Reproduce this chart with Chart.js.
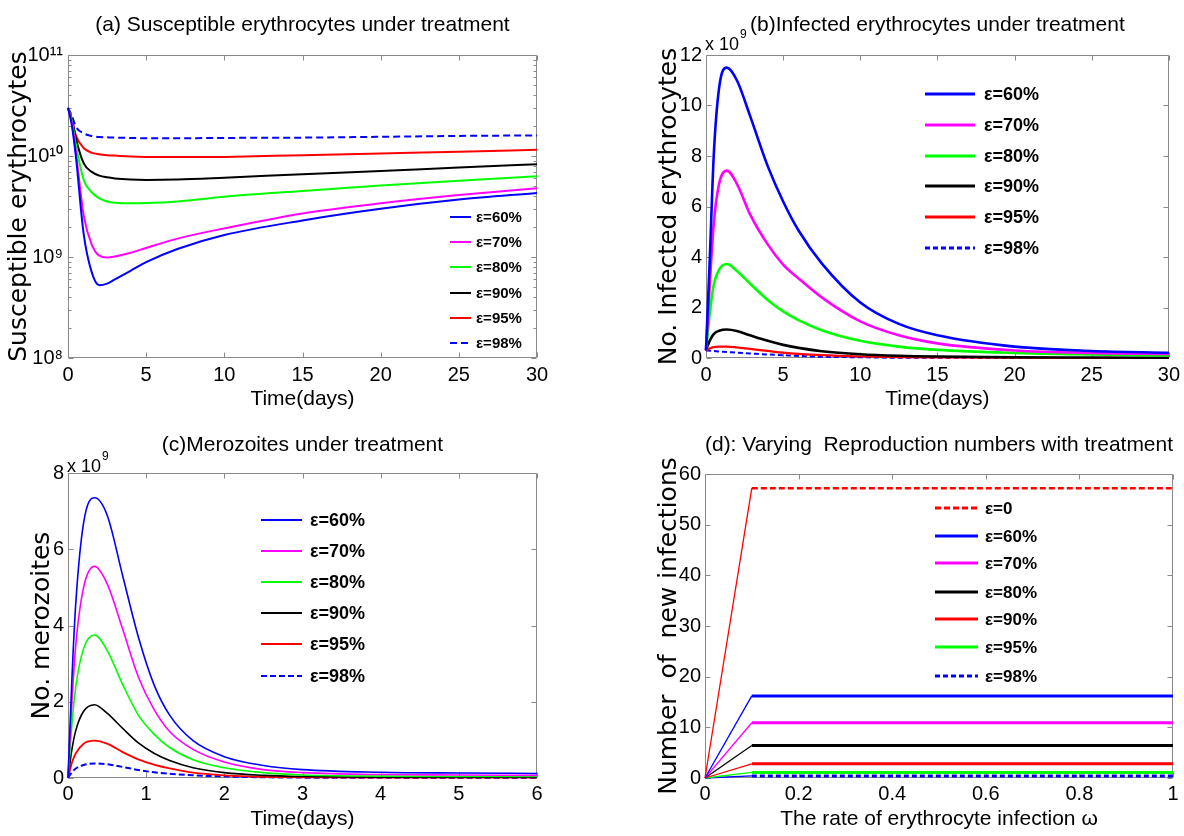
<!DOCTYPE html>
<html><head><meta charset="utf-8">
<script src="https://cdn.jsdelivr.net/npm/chart.js@4.4.1/dist/chart.umd.min.js"></script>
<style>
html,body{margin:0;padding:0;background:#fff;width:1184px;height:836px;overflow:hidden}
canvas{position:absolute}
</style></head><body>
<canvas id="ca" width="592" height="418" style="left:0;top:0;width:592px;height:418px"></canvas>
<canvas id="cb" width="592" height="418" style="left:592px;top:0;width:592px;height:418px"></canvas>
<canvas id="cc" width="592" height="418" style="left:0;top:418px;width:592px;height:418px"></canvas>
<canvas id="cd" width="592" height="418" style="left:592px;top:418px;width:592px;height:418px"></canvas>
<script>
// ---------------- DATA ----------------
const seriesLabels = ['ε=60%', 'ε=70%', 'ε=80%', 'ε=90%', 'ε=95%', 'ε=98%'];
const seriesLabelsD = ['ε=0', 'ε=60%', 'ε=70%', 'ε=80%', 'ε=90%', 'ε=95%', 'ε=98%'];

// (a) susceptible erythrocytes (log scale)
const timeA = [0, 0.25, 0.5, 1, 1.5, 2, 2.5, 3, 4, 5, 7, 10, 15, 20, 25, 30];
const suscA60 = [3.0e10, 2.0e10, 1.0e10, 1.7e9, 7.2e8, 5.25e8, 5.45e8, 6.0e8, 7.3e8, 8.9e8, 1.2e9, 1.65e9, 2.3e9, 3.0e9, 3.7e9, 4.3e9];
const suscA70 = [3.0e10, 2.1e10, 1.1e10, 2.6e9, 1.35e9, 1.03e9, 9.9e8, 1.01e9, 1.1e9, 1.23e9, 1.52e9, 1.92e9, 2.7e9, 3.4e9, 4.1e9, 4.8e9];
const suscA80 = [3.0e10, 2.2e10, 1.3e10, 5.8e9, 4.4e9, 3.8e9, 3.55e9, 3.45e9, 3.4e9, 3.42e9, 3.55e9, 3.95e9, 4.5e9, 5.1e9, 5.7e9, 6.3e9];
const suscA90 = [3.0e10, 2.3e10, 1.5e10, 8.5e9, 7.0e9, 6.4e9, 6.15e9, 6.0e9, 5.85e9, 5.8e9, 5.85e9, 6.1e9, 6.6e9, 7.1e9, 7.7e9, 8.3e9];
const suscA95 = [3.0e10, 2.3e10, 1.6e10, 1.2e10, 1.08e10, 1.04e10, 1.02e10, 1.01e10, 9.9e9, 9.8e9, 9.75e9, 9.8e9, 1.02e10, 1.06e10, 1.1e10, 1.15e10];
const suscA98 = [3.0e10, 2.5e10, 1.95e10, 1.68e10, 1.58e10, 1.54e10, 1.53e10, 1.52e10, 1.51e10, 1.5e10, 1.5e10, 1.51e10, 1.52e10, 1.55e10, 1.58e10, 1.6e10];
const xTicksA = [0, 5, 10, 15, 20, 25, 30];
const yTicksA = [1e8, 1e9, 1e10, 1e11];
const yTickLabelsA = ['10⁸', '10⁹', '10¹⁰', '10¹¹'];

// (b) infected erythrocytes (x 10^9)
const timeB = [0, 0.25, 0.5, 0.85, 1.35, 2, 2.85, 4, 5, 6, 7.5, 10, 12.5, 15, 20, 25, 30];
const infB60 = [0.3, 4.0, 8.0, 10.7, 11.5, 11.0, 9.6, 7.6, 6.2, 5.05, 3.75, 2.2, 1.35, 0.9, 0.45, 0.28, 0.21];
const infB70 = [0.3, 3.0, 5.3, 6.9, 7.42, 6.9, 5.7, 4.5, 3.7, 3.15, 2.4, 1.45, 0.9, 0.58, 0.3, 0.2, 0.16];
const infB80 = [0.3, 1.8, 2.9, 3.5, 3.72, 3.45, 2.95, 2.3, 1.85, 1.5, 1.1, 0.68, 0.45, 0.32, 0.2, 0.14, 0.1];
const infB90 = [0.3, 0.7, 0.95, 1.08, 1.13, 1.07, 0.9, 0.68, 0.52, 0.4, 0.27, 0.15, 0.09, 0.06, 0.03, 0.02, 0.01];
const infB95 = [0.3, 0.38, 0.43, 0.45, 0.45, 0.42, 0.36, 0.28, 0.21, 0.16, 0.11, 0.06, 0.03, 0.02, 0.01, 0, 0];
const infB98 = [0.3, 0.29, 0.28, 0.26, 0.24, 0.21, 0.18, 0.14, 0.11, 0.08, 0.05, 0.03, 0.01, 0.01, 0, 0, 0];
const xTicksB = [0, 5, 10, 15, 20, 25, 30];
const yTicksB = [0, 2, 4, 6, 8, 10, 12];

// (c) merozoites (x 10^9)
const timeC = [0, 0.05, 0.1, 0.2, 0.34, 0.5, 0.7, 0.9, 1.1, 1.3, 1.6, 2, 2.5, 3, 4, 5, 6];
const meroC60 = [0, 2.6, 4.6, 6.7, 7.35, 6.9, 5.3, 3.7, 2.45, 1.65, 0.98, 0.56, 0.33, 0.22, 0.15, 0.13, 0.12];
const meroC70 = [0, 2.0, 3.5, 5.0, 5.55, 5.1, 3.9, 2.65, 1.8, 1.22, 0.75, 0.42, 0.22, 0.14, 0.09, 0.08, 0.07];
const meroC80 = [0, 1.4, 2.4, 3.4, 3.75, 3.35, 2.45, 1.65, 1.15, 0.8, 0.48, 0.27, 0.14, 0.08, 0.05, 0.04, 0.04];
const meroC90 = [0, 0.75, 1.25, 1.75, 1.92, 1.7, 1.3, 0.92, 0.65, 0.46, 0.27, 0.14, 0.07, 0.04, 0.02, 0.02, 0.02];
const meroC95 = [0, 0.4, 0.65, 0.9, 0.98, 0.9, 0.68, 0.49, 0.35, 0.25, 0.14, 0.07, 0.03, 0.02, 0.01, 0.01, 0.01];
const meroC98 = [0, 0.15, 0.25, 0.34, 0.38, 0.36, 0.29, 0.21, 0.15, 0.11, 0.07, 0.04, 0.02, 0.01, 0.005, 0, 0];
const xTicksC = [0, 1, 2, 3, 4, 5, 6];
const yTicksC = [0, 2, 4, 6, 8];

// (d) reproduction numbers vs omega
const omegaD = [0, 0.1, 1];
const reproD0 = [0, 57.2, 57.2];
const reproD60 = [0, 16.2, 16.2];
const reproD70 = [0, 10.9, 10.9];
const reproD80 = [0, 6.4, 6.4];
const reproD90 = [0, 2.8, 2.8];
const reproD95 = [0, 1.1, 1.1];
const reproD98 = [0, 0.4, 0.4];
const xTicksD = [0, 0.2, 0.4, 0.6, 0.8, 1];
const xTickLabelsD = ['0', '0.2', '0.4', '0.6', '0.8', '1'];
const yTicksD = [0, 10, 20, 30, 40, 50, 60];

// ---------------- FONTS ----------------
function hasFont(name) {
  const c = document.createElement('canvas').getContext('2d');
  const s = 'abcdefghijklmnopqrstuvwxyz0123456789';
  c.font = '40px monospace'; const w0 = c.measureText(s).width;
  c.font = '40px "' + name + '", monospace'; const w1 = c.measureText(s).width;
  return Math.abs(w0 - w1) > 0.5;
}
const NARROW = hasFont('Liberation Sans Narrow');
const NF = NARROW ? '"Liberation Sans Narrow", "Liberation Sans", Arial, sans-serif' : '"Liberation Sans", Arial, sans-serif';
function fs(narrowSize, regularSize) { return NARROW ? narrowSize : regularSize; }
const WF = '"DejaVu Sans", Verdana, sans-serif';
Chart.defaults.font.family = NF;
Chart.defaults.color = '#000';

// ---------------- PLUGINS ----------------
const matlabAxes = {
  id: 'matlabAxes',
  beforeDatasetsDraw(chart, args, o) {
    const {ctx, chartArea: a, scales: {x, y}} = chart;
    const L = Math.round(a.left) + 0.5, R = Math.round(a.right) - 0.5;
    const T = Math.round(a.top) + 0.5, B = Math.round(a.bottom) - 0.5;
    const tl = o.tickLen || 5;
    ctx.save();
    ctx.strokeStyle = o.color || '#808080';
    ctx.lineWidth = 1;
    ctx.beginPath();
    ctx.rect(L, T, R - L, B - T);
    x.ticks.forEach(t => {
      const p = Math.round(x.getPixelForValue(t.value)) + 0.5;
      ctx.moveTo(p, B); ctx.lineTo(p, B - tl);
      ctx.moveTo(p, T); ctx.lineTo(p, T + tl);
    });
    y.ticks.forEach(t => {
      const p = Math.round(y.getPixelForValue(t.value)) + 0.5;
      ctx.moveTo(L, p); ctx.lineTo(L + tl, p);
      ctx.moveTo(R, p); ctx.lineTo(R - tl, p);
    });
    if (o.logMinor) {
      const lo = Math.round(Math.log10(y.min)), hi = Math.round(Math.log10(y.max));
      for (let e = lo; e < hi; e++) {
        for (let m = 2; m <= 9; m++) {
          const p = Math.round(y.getPixelForValue(m * Math.pow(10, e))) + 0.5;
          ctx.moveTo(L, p); ctx.lineTo(L + 3, p);
          ctx.moveTo(R, p); ctx.lineTo(R - 3, p);
        }
      }
    }
    ctx.stroke();
    ctx.restore();
  }
};

const mlLegend = {
  id: 'mlLegend',
  afterDatasetsDraw(chart, args, o) {
    const ctx = chart.ctx;
    chart.data.datasets.forEach((ds, i) => {
      const y = o.rows[i];
      ctx.save();
      ctx.strokeStyle = ds.borderColor;
      ctx.lineWidth = o.lineWidth;
      ctx.setLineDash(ds.borderDash || []);
      ctx.beginPath(); ctx.moveTo(o.x0, y); ctx.lineTo(o.x1, y); ctx.stroke();
      ctx.setLineDash([]);
      ctx.fillStyle = '#000';
      ctx.font = 'bold ' + o.size + 'px ' + NF;
      ctx.textBaseline = 'middle';
      ctx.textAlign = 'left';
      ctx.fillText(ds.label, o.tx, y + 1);
      ctx.restore();
    });
  }
};

const mult = {
  id: 'mult',
  afterDraw(chart, args, o) {
    if (!o || !o.show) return;
    const ctx = chart.ctx;
    ctx.save();
    ctx.fillStyle = '#000';
    ctx.textAlign = 'left';
    ctx.textBaseline = 'alphabetic';
    ctx.font = fs(21, 18) + 'px ' + NF;
    const base = 'x 10';
    ctx.fillText(base, o.x, o.y);
    const w = ctx.measureText(base).width;
    ctx.font = fs(14, 12) + 'px ' + NF;
    ctx.fillText(o.exp, o.x + w + 1, o.y - 12);
    ctx.restore();
  }
};

// ---------------- HELPERS ----------------
function pts(xs, ys) { return xs.map((v, i) => ({x: v, y: ys[i]})); }
function ds(label, xs, ys, color, width, dash, extra) {
  return Object.assign({
    label, data: pts(xs, ys), borderColor: color, backgroundColor: color,
    borderWidth: width, borderDash: dash || [], pointRadius: 0, fill: false,
    cubicInterpolationMode: 'monotone', clip: 4
  }, extra || {});
}
function fixedTicks(arr) {
  return s => { s.ticks = arr.map(v => ({value: v})); };
}

function makeChart(id, c) {
  const xTicksOpt = {autoSkip: false, maxRotation: 0, padding: c.xTickPad, color: '#000',
                     font: {family: NF, size: fs(22, 20), lineHeight: '26px'}};
  if (c.xTickCb) xTicksOpt.callback = c.xTickCb;
  const yTicksOpt = {autoSkip: false, padding: c.yTickPad, color: '#000',
                     font: {family: NF, size: fs(22, 20), lineHeight: '26px'}};
  if (c.yTickCb) yTicksOpt.callback = c.yTickCb;
  return new Chart(document.getElementById(id), {
    type: 'line',
    data: {datasets: c.datasets},
    plugins: [matlabAxes, mlLegend, mult],
    options: {
      responsive: false, animation: false, devicePixelRatio: 1, events: [],
      layout: {padding: {left: 0, right: c.padRight, top: 0, bottom: 0}},
      plugins: {
        legend: {display: false},
        tooltip: {enabled: false},
        title: {
          display: true, text: c.title, fullSize: false, color: '#000',
          font: {family: NF, size: fs(25, 21), weight: 'normal', lineHeight: '30px'},
          padding: {top: c.titleTop, bottom: c.titleBottom}
        },
        matlabAxes: {tickLen: 5, color: '#8a8a8a', logMinor: !!c.logMinor},
        mlLegend: c.legend,
        mult: c.mult || {show: false}
      },
      scales: {
        x: {
          type: 'linear', position: 'bottom', min: c.xMin, max: c.xMax,
          afterBuildTicks: fixedTicks(c.xTicks),
          afterFit: s => { s.height = c.xAxisH; },
          grid: {display: false, drawTicks: false}, border: {display: false},
          ticks: xTicksOpt,
          title: {display: true, text: c.xTitle, color: '#000',
                  font: {family: NF, size: fs(24, 21), lineHeight: '29px'},
                  padding: {top: 0, bottom: c.xTitlePad}}
        },
        y: {
          type: c.yType || 'linear', position: 'left', min: c.yMin, max: c.yMax,
          afterBuildTicks: fixedTicks(c.yTicks),
          afterFit: s => { s.width = c.yAxisW; },
          grid: {display: false, drawTicks: false}, border: {display: false},
          ticks: yTicksOpt,
          title: {display: true, text: c.yTitle, color: '#000',
                  font: {family: WF, size: 25, lineHeight: '30px'},
                  padding: {top: c.yTitlePad, bottom: 0}}
        }
      }
    }
  });
}

// ---------------- CHART (a) ----------------
makeChart('ca', {
  title: '(a) Susceptible erythrocytes under treatment', titleTop: 10, titleBottom: 15,
  padRight: 55, xAxisH: 60, yAxisW: 68, xTickPad: 4, xTitlePad: 4, yTickPad: 5, yTitlePad: 4,
  xMin: 0, xMax: 30, xTicks: xTicksA, xTitle: 'Time(days)',
  yType: 'logarithmic', yMin: 1e8, yMax: 1e11, yTicks: yTicksA, logMinor: true,
  yTickCb: (v, i) => yTickLabelsA[i],
  yTitle: 'Susceptible erythrocytes',
  legend: {x0: 450, x1: 471, tx: 476, rows: [217, 242, 267, 293, 318, 343], lineWidth: 2, size: fs(17, 15)},
  datasets: [
    ds(seriesLabels[0], timeA, suscA60, '#0000ff', 2),
    ds(seriesLabels[1], timeA, suscA70, '#ff00ff', 2),
    ds(seriesLabels[2], timeA, suscA80, '#00ff00', 2),
    ds(seriesLabels[3], timeA, suscA90, '#000000', 2),
    ds(seriesLabels[4], timeA, suscA95, '#ff0000', 2),
    ds(seriesLabels[5], timeA, suscA98, '#0000ff', 2, [7, 4])
  ]
});

// ---------------- CHART (b) ----------------
makeChart('cb', {
  title: '(b)Infected erythrocytes under treatment', titleTop: 10, titleBottom: 15,
  padRight: 11, xAxisH: 60, yAxisW: 114, xTickPad: 4, xTitlePad: 4, yTickPad: 4, yTitlePad: 62,
  xMin: 0, xMax: 30, xTicks: xTicksB, xTitle: 'Time(days)',
  yMin: 0, yMax: 12, yTicks: yTicksB,
  yTitle: 'No. Infected erythrocytes',
  mult: {show: true, x: 113, y: 50, exp: '9'},
  legend: {x0: 333, x1: 383, tx: 392, rows: [94, 125, 156, 186, 217, 248], lineWidth: 3, size: fs(21, 18)},
  datasets: [
    ds(seriesLabels[0], timeB, infB60, '#0000ff', 2.6),
    ds(seriesLabels[1], timeB, infB70, '#ff00ff', 2.6),
    ds(seriesLabels[2], timeB, infB80, '#00ff00', 2.6),
    ds(seriesLabels[3], timeB, infB90, '#000000', 2.6),
    ds(seriesLabels[4], timeB, infB95, '#ff0000', 2.2),
    ds(seriesLabels[5], timeB, infB98, '#0000ff', 2, [5, 3])
  ]
});

// ---------------- CHART (c) ----------------
makeChart('cc', {
  title: '(c)Merozoites under treatment', titleTop: 12, titleBottom: 13,
  padRight: 55, xAxisH: 58, yAxisW: 68, xTickPad: 3, xTitlePad: 2, yTickPad: 4, yTitlePad: 27,
  xMin: 0, xMax: 6, xTicks: xTicksC, xTitle: 'Time(days)',
  yMin: 0, yMax: 8, yTicks: yTicksC,
  yTitle: 'No. merozoites',
  mult: {show: true, x: 67, y: 54, exp: '9'},
  legend: {x0: 261, x1: 302, tx: 310, rows: [102, 133, 164, 195, 226, 258], lineWidth: 2, size: fs(21, 18)},
  datasets: [
    ds(seriesLabels[0], timeC, meroC60, '#0000ff', 1.6),
    ds(seriesLabels[1], timeC, meroC70, '#ff00ff', 1.6),
    ds(seriesLabels[2], timeC, meroC80, '#00ff00', 1.6),
    ds(seriesLabels[3], timeC, meroC90, '#000000', 1.6),
    ds(seriesLabels[4], timeC, meroC95, '#ff0000', 1.8),
    ds(seriesLabels[5], timeC, meroC98, '#0000ff', 2, [6, 3])
  ]
});

// ---------------- CHART (d) ----------------
const rampThin = {segment: {borderWidth: c => c.p0DataIndex === 0 ? 1.3 : undefined,
                            borderDash: c => c.p0DataIndex === 0 ? [] : undefined}, cubicInterpolationMode: 'default', tension: 0};
makeChart('cd', {
  title: '(d): Varying  Reproduction numbers with treatment', titleTop: 12, titleBottom: 14,
  padRight: 11, xAxisH: 58, yAxisW: 113, xTickPad: 3, xTitlePad: 2, yTickPad: 4, yTitlePad: 62,
  xMin: 0, xMax: 1, xTicks: xTicksD, xTickCb: (v, i) => xTickLabelsD[i], xTitle: 'The rate of erythrocyte infection ω',
  yMin: 0, yMax: 60, yTicks: yTicksD,
  yTitle: 'Number  of  new infections',
  legend: {x0: 343, x1: 386, tx: 393, rows: [90, 118, 145, 174, 201, 229, 258], lineWidth: 3, size: fs(19, 17)},
  datasets: [
    ds(seriesLabelsD[0], omegaD, reproD0, '#ff0000', 2.4, [6, 3], rampThin),
    ds(seriesLabelsD[1], omegaD, reproD60, '#0000ff', 3, [], rampThin),
    ds(seriesLabelsD[2], omegaD, reproD70, '#ff00ff', 3, [], rampThin),
    ds(seriesLabelsD[3], omegaD, reproD80, '#000000', 3, [], rampThin),
    ds(seriesLabelsD[4], omegaD, reproD90, '#ff0000', 3, [], rampThin),
    ds(seriesLabelsD[5], omegaD, reproD95, '#00ff00', 3, [], rampThin),
    ds(seriesLabelsD[6], omegaD, reproD98, '#0000ff', 3, [5, 3], rampThin)
  ]
});
</script>
</body></html>
